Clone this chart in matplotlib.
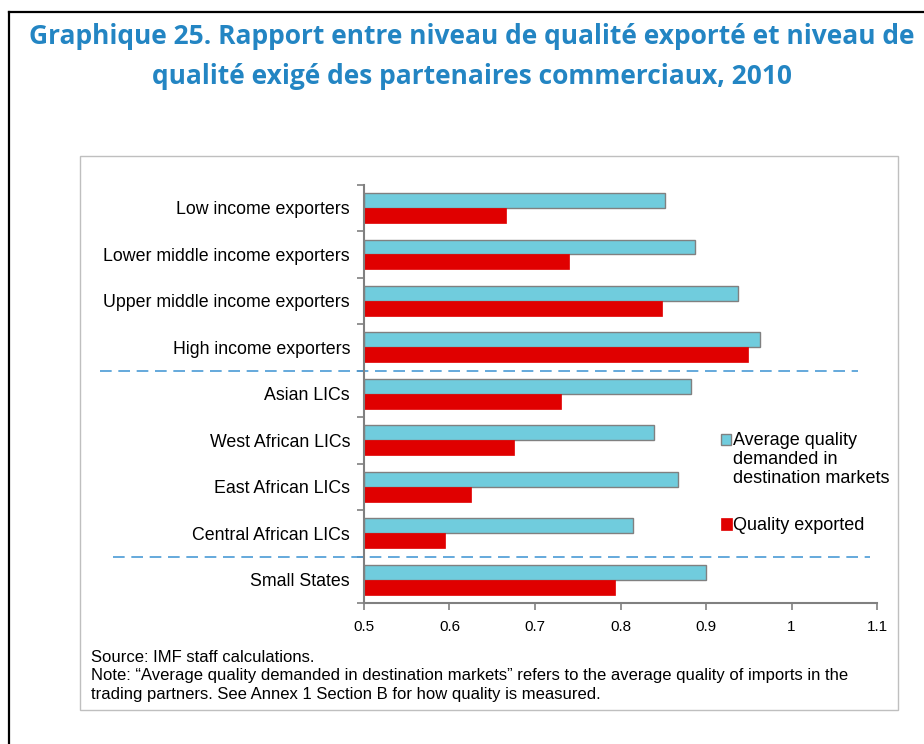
import matplotlib.pyplot as plt
import matplotlib.transforms as mtransforms
from matplotlib.patches import Rectangle
from matplotlib.lines import Line2D
import numpy as np

categories = [
    "Low income exporters",
    "Lower middle income exporters",
    "Upper middle income exporters",
    "High income exporters",
    "Asian LICs",
    "West African LICs",
    "East African LICs",
    "Central African LICs",
    "Small States",
]
demanded = [0.852, 0.887, 0.938, 0.963, 0.882, 0.839, 0.867, 0.815, 0.900]
exported = [0.666, 0.740, 0.849, 0.949, 0.730, 0.676, 0.625, 0.595, 0.794]
group_breaks = [3.5, 7.5]
xticks = [0.5, 0.6, 0.7, 0.8, 0.9, 1.0, 1.1]

W, H = 924, 744
BLUE = "#70CCDD"
RED = "#E00000"
GREY = "#808080"
TITLE_C = "#2385C3"

plt.rcParams["font.family"] = ["Liberation Sans", "DejaVu Sans"]

fig = plt.figure(figsize=(W / 100, H / 100), dpi=100)

def fx(px):
    return px / W

def fy(py):
    return 1 - py / H

# outer black frame and inner grey chart box
fig.add_artist(Line2D([fx(9), fx(9)], [0, fy(12)], color="black", lw=1.6))
fig.add_artist(Line2D([fx(9), 1], [fy(12), fy(12)], color="black", lw=1.6))
fig.add_artist(Rectangle((fx(80), fy(710)), fx(897.7) - fx(80), fy(155.7) - fy(710),
                         transform=fig.transFigure, fill=False, ec="#BFBFBF", lw=1.0))

# title
title_font = dict(family=["Open Sans", "DejaVu Sans"], weight="bold", color=TITLE_C, size=19)
fig.text(fx(472), fy(36), "Graphique 25. Rapport entre niveau de qualité exporté et niveau de",
         ha="center", va="center", **title_font)
fig.text(fx(472), fy(76), "qualité exigé des partenaires commerciaux, 2010",
         ha="center", va="center", **title_font)

ax = fig.add_axes([fx(364), fy(603), fx(877) - fx(364), fy(184.7) - fy(603)])
y = np.arange(len(categories))
h = 0.32
ax.barh(y - h / 2, np.array(demanded) - 0.5, left=0.5, height=h, color=BLUE,
        edgecolor=GREY, linewidth=1.0)
ax.barh(y + h / 2, np.array(exported) - 0.5, left=0.5, height=h, color=RED,
        edgecolor=RED, linewidth=0.5)

ax.set_xlim(0.5, 1.1)
ax.set_ylim(len(categories) - 0.5, -0.5)
ax.set_xticks(xticks)
ax.set_xticklabels([f"{v:g}" for v in xticks], fontsize=11)
ax.set_yticks(y)
ax.set_yticklabels(categories, fontsize=12.8)
ax.set_yticks(np.arange(-0.5, len(categories)), minor=True)
ax.tick_params(axis="y", which="major", length=0, pad=10)
ax.tick_params(axis="y", which="minor", length=5, width=1.2, color=GREY)
ax.tick_params(axis="x", length=5, width=1.2, color=GREY, pad=7)
for s in ["top", "right"]:
    ax.spines[s].set_visible(False)
for s in ["left", "bottom"]:
    ax.spines[s].set_color(GREY)
    ax.spines[s].set_linewidth(1.5)

# dashed separators reaching into the label area
trans = mtransforms.blended_transform_factory(ax.transAxes, ax.transData)
for yb, x0, x1 in zip(group_breaks, [-0.515, -0.489], [0.963, 0.986]):
    ax.plot([x0, x1], [yb, yb], transform=trans, clip_on=False, color="#4A9BD5",
            lw=1.2, dashes=(7, 4))

# legend drawn by hand to keep the handle on the first line
fig.add_artist(Rectangle((fx(720.5), fy(444.5)), fx(10.5), fy(434) - fy(444.5),
                         transform=fig.transFigure, fc=BLUE, ec=GREY, lw=1.0))
fig.text(fx(733), fy(459.5), "Average quality\ndemanded in\ndestination markets",
         ha="left", va="center", fontsize=13, linespacing=1.15)
fig.add_artist(Rectangle((fx(720.5), fy(530)), fx(11), fy(518) - fy(530),
                         transform=fig.transFigure, fc=RED, ec=RED, lw=0.5))
fig.text(fx(733), fy(525), "Quality exported", ha="left", va="center", fontsize=13)

# notes
note_font = dict(family=["Liberation Sans Narrow", "Liberation Sans"], fontsize=12)
fig.text(fx(91), fy(657), "Source: IMF staff calculations.", ha="left", va="center", **note_font)
fig.text(fx(91), fy(675.5),
         "Note: \u201cAverage quality demanded in destination markets\u201d refers to the average quality of imports in the",
         ha="left", va="center", **note_font)
fig.text(fx(91), fy(694), "trading partners. See Annex 1 Section B for how quality is measured.",
         ha="left", va="center", **note_font)

fig.savefig("out.png", dpi=100)
